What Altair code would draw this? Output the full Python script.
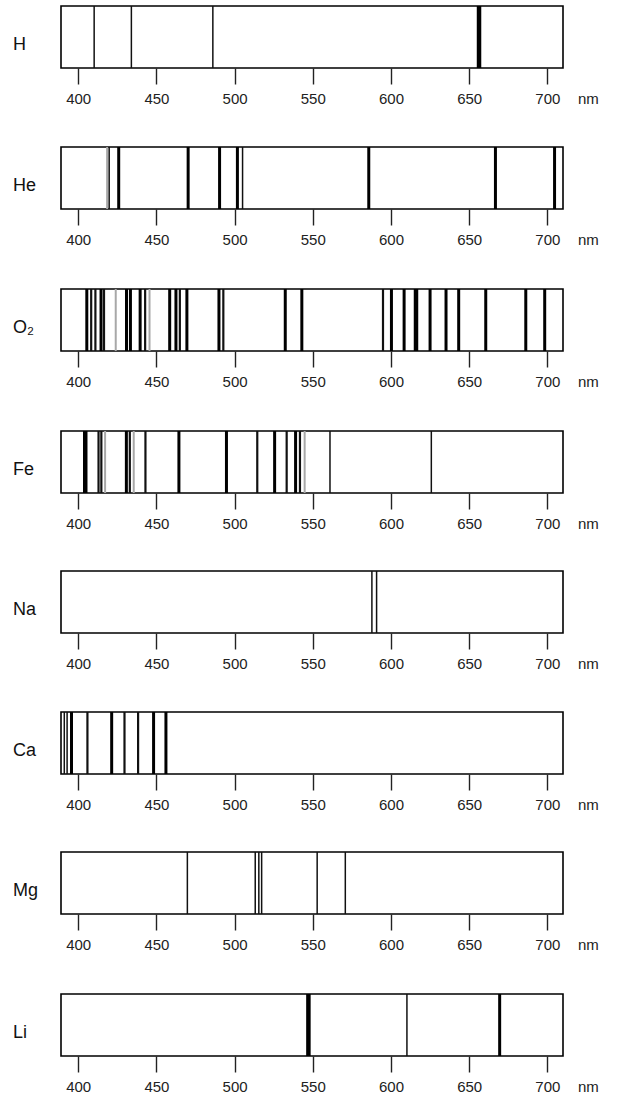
import altair as alt
import pandas as pd

# ---- data -------------------------------------------------------------
elements = ["H", "He", "O₂", "Fe", "Na", "Ca", "Mg", "Li"]
tick_values = [400, 450, 500, 550, 600, 650, 700]
unit_label = "nm"

# line kinds (relative intensity classes)
kinds = ["faint", "thin", "medium", "thick", "heavy"]

h_nm = [410.2, 434.0, 486.1, 656.3]
h_kind = ["thin", "thin", "thin", "heavy"]

he_nm = [418.5, 419.8, 425.9, 470.3, 490.4, 501.8, 505.1, 585.8, 666.8, 704.6]
he_kind = ["faint", "thin", "thick", "thick", "thick", "thick", "thin", "thick", "thick", "thick"]

o2_nm = [405.5, 408.3, 411.0, 414.6, 416.5, 424.0, 430.9, 433.4, 439.6, 442.8, 445.6,
         458.5, 462.5, 465.0, 469.5, 490.0, 492.8, 532.4, 543.0,
         594.9, 600.3, 608.4, 616.0, 625.0, 635.2, 643.3, 660.6, 686.2, 698.3]
o2_kind = ["thick", "medium", "medium", "thick", "medium", "faint", "thick", "thick", "thick", "medium", "faint",
           "thick", "thick", "medium", "thick", "thick", "medium", "thick", "thick",
           "medium", "thick", "thick", "heavy", "thick", "thick", "thick", "thick", "thick", "thick"]

fe_nm = [404.5, 413.0, 414.8, 417.2, 430.8, 433.0, 435.5, 443.0, 464.4, 494.8,
         514.5, 525.6, 533.3, 539.0, 541.8, 544.8, 561.0, 625.8]
fe_kind = ["heavy", "medium", "medium", "faint", "thick", "medium", "faint", "medium", "thick", "thick",
           "medium", "thick", "medium", "thick", "medium", "faint", "thin", "thin"]

na_nm = [587.8, 590.8]
na_kind = ["thin", "thin"]

ca_nm = [391.1, 392.9, 395.7, 405.9, 421.4, 429.6, 438.3, 448.2, 456.1]
ca_kind = ["thin", "thin", "thick", "medium", "thick", "medium", "medium", "thick", "thick"]

mg_nm = [469.8, 513.2, 515.5, 517.3, 552.8, 570.8]
mg_kind = ["thin", "thin", "thin", "thin", "thin", "thin"]

li_nm = [547.2, 610.2, 669.5]
li_kind = ["heavy", "thin", "thick"]

series = [(h_nm, h_kind), (he_nm, he_kind), (o2_nm, o2_kind), (fe_nm, fe_kind),
          (na_nm, na_kind), (ca_nm, ca_kind), (mg_nm, mg_kind), (li_nm, li_kind)]

# ---- styling ------------------------------------------------------------
FONT = "Liberation Sans"
kind_colors = ["#a8a8a8", "#111111", "#111111", "#000000", "#000000"]
kind_widths = [2.0, 1.5, 2.2, 3.0, 4.5]

W, H = 502, 62


def panel(name, nm, kind):
    df = pd.DataFrame({"nm": nm, "kind": kind})
    rules = alt.Chart(df).mark_rule().encode(
        x=alt.X(
            "nm:Q",
            scale=alt.Scale(domain=[389, 710], nice=False, zero=False),
            axis=alt.Axis(values=tick_values, title=None, grid=False, domain=False,
                          tickSize=16, tickWidth=1.4, tickColor="#222",
                          labelPadding=7, labelFontSize=15, labelFont=FONT,
                          labelColor="#222", format="d"),
        ),
        color=alt.Color("kind:N", scale=alt.Scale(type="ordinal", domain=kinds, range=kind_colors), legend=None),
        strokeWidth=alt.StrokeWidth("kind:N", scale=alt.Scale(type="ordinal", domain=kinds, range=kind_widths), legend=None),
    )
    label = alt.Chart(pd.DataFrame({"t": [name]})).mark_text(
        align="left", baseline="middle", fontSize=18, font=FONT, color="#111"
    ).encode(x=alt.value(-48), y=alt.value(39), text="t:N")
    unit = alt.Chart(pd.DataFrame({"t": [unit_label]})).mark_text(
        align="left", baseline="alphabetic", fontSize=15, font=FONT, color="#222"
    ).encode(x=alt.value(517), y=alt.value(H + 36), text="t:N")
    return alt.layer(rules, label, unit).properties(width=W, height=H)


panels = [panel(n, s[0], s[1]) for n, s in zip(elements, series)]

chart = alt.vconcat(*panels, spacing=36).properties(
    padding={"left": 12, "top": 2, "right": 5, "bottom": 0},
    background="white",
).configure_view(stroke="#000", strokeWidth=1.6)

chart.save("out.html", embed_options={"renderer": "svg", "actions": False})
